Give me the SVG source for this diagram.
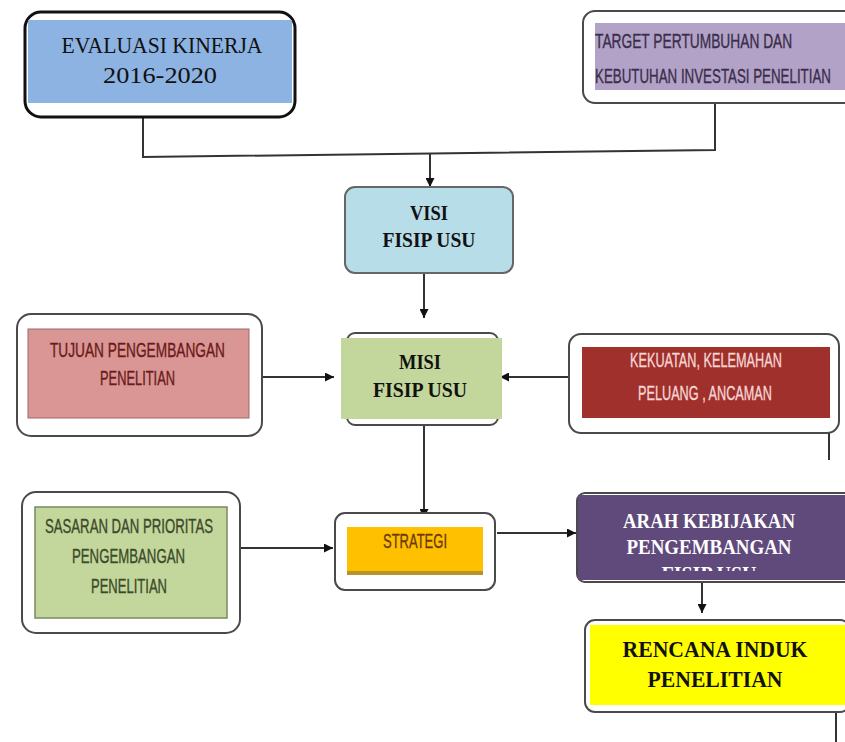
<svg xmlns="http://www.w3.org/2000/svg" width="845" height="742" viewBox="0 0 845 742">
<style>
.frame{fill:#fff;stroke:#4a4a4a;stroke-width:2}
.serif{font-family:"Liberation Serif","DejaVu Serif",serif;text-anchor:middle}
.sb{font-family:"Liberation Serif","DejaVu Serif",serif;font-weight:bold;text-anchor:middle}
.sans{font-family:"Liberation Sans","DejaVu Sans",sans-serif;font-size:20px;stroke-width:0.35px}
.conn{fill:none;stroke:#333;stroke-width:2}
</style>
<defs>
<marker id="arr" markerUnits="userSpaceOnUse" markerWidth="9" markerHeight="9" viewBox="0 0 10 10" refX="10" refY="5" orient="auto">
<path d="M0,0 L10,5 L0,10 z" fill="#111"/>
</marker>
<clipPath id="arahClip"><rect x="578" y="495" width="267" height="76"/></clipPath>
</defs>
<rect width="845" height="742" fill="#fff"/>

<g id="connectors">
<polyline class="conn" points="143,103 143,157 715,150 715,90"/>
<line class="conn" x1="430" y1="154" x2="430" y2="187" marker-end="url(#arr)"/>
<line class="conn" x1="424" y1="273" x2="424" y2="318" marker-end="url(#arr)"/>
<line class="conn" x1="262" y1="377" x2="334" y2="377" marker-end="url(#arr)"/>
<line class="conn" x1="570" y1="377" x2="500" y2="377" marker-end="url(#arr)"/>
<line class="conn" x1="424" y1="425" x2="424" y2="518" marker-end="url(#arr)"/>
<line class="conn" x1="240" y1="548" x2="333" y2="548" marker-end="url(#arr)"/>
<line class="conn" x1="497" y1="533" x2="576" y2="533" marker-end="url(#arr)"/>
<line class="conn" x1="702" y1="582" x2="702" y2="613" marker-end="url(#arr)"/>
<line class="conn" x1="829" y1="433" x2="829" y2="460" stroke-width="1.5"/>
<line class="conn" x1="836" y1="705" x2="836" y2="742" stroke-width="1.5"/>
</g>

<g id="evaluasi">
<rect x="25" y="12" width="270" height="105" rx="16" fill="#fff" stroke="#111" stroke-width="3"/>
<rect x="28" y="20" width="264" height="83" fill="#8db3e2"/>
<text class="serif" x="162" y="53" font-size="24" textLength="201" lengthAdjust="spacingAndGlyphs" fill="#111">EVALUASI KINERJA</text>
<text class="serif" x="160" y="83" font-size="24" textLength="114" lengthAdjust="spacingAndGlyphs" fill="#111">2016-2020</text>
</g>

<g id="target">
<rect class="frame" x="583" y="11" width="275" height="92" rx="12"/>
<rect x="595" y="23" width="250" height="67" fill="#b2a2c7"/>
<text class="sans" transform="translate(595,48) scale(0.68,1)" x="0" y="0" fill="#3a2d4a" stroke="#3a2d4a" textLength="290" lengthAdjust="spacingAndGlyphs">TARGET PERTUMBUHAN DAN</text>
<text class="sans" transform="translate(595,83) scale(0.68,1)" x="0" y="0" fill="#3a2d4a" stroke="#3a2d4a" textLength="347" lengthAdjust="spacingAndGlyphs">KEBUTUHAN INVESTASI PENELITIAN</text>
</g>

<g id="visi">
<rect x="345" y="187" width="168" height="86" rx="10" fill="#b7dde8" stroke="#666" stroke-width="2"/>
<text class="sb" x="429" y="220" font-size="21" textLength="38" lengthAdjust="spacingAndGlyphs" fill="#111">VISI</text>
<text class="sb" x="429" y="247" font-size="21" textLength="93" lengthAdjust="spacingAndGlyphs" fill="#111">FISIP USU</text>
</g>

<g id="misi">
<rect class="frame" x="347" y="333" width="151" height="92" rx="8"/>
<rect x="341" y="338" width="161" height="81" fill="#c3d69b"/>
<text class="sb" x="420" y="369" font-size="21" textLength="42" lengthAdjust="spacingAndGlyphs" fill="#111">MISI</text>
<text class="sb" x="420" y="397" font-size="21" textLength="94" lengthAdjust="spacingAndGlyphs" fill="#111">FISIP USU</text>
</g>

<g id="tujuan">
<rect class="frame" x="17" y="314" width="245" height="122" rx="14"/>
<rect x="28" y="329" width="221" height="89" fill="#d99694" stroke="#9a6a6a" stroke-width="1"/>
<text class="sans" x="50" y="357" fill="#6b1a1a" stroke="#6b1a1a" textLength="175" lengthAdjust="spacingAndGlyphs">TUJUAN PENGEMBANGAN</text>
<text class="sans" x="100" y="385" fill="#6b1a1a" stroke="#6b1a1a" textLength="75" lengthAdjust="spacingAndGlyphs">PENELITIAN</text>
</g>

<g id="kekuatan">
<rect class="frame" x="569" y="334" width="270" height="99" rx="12"/>
<rect x="582" y="347" width="248" height="71" fill="#a0302c"/>
<text class="sans" transform="translate(630,367) scale(0.66,1)" x="0" y="0" fill="#f6d6d4" stroke="#f6d6d4" textLength="230" lengthAdjust="spacingAndGlyphs">KEKUATAN, KELEMAHAN</text>
<text class="sans" transform="translate(638,400) scale(0.66,1)" x="0" y="0" fill="#f6d6d4" stroke="#f6d6d4" textLength="203" lengthAdjust="spacingAndGlyphs">PELUANG , ANCAMAN</text>
</g>

<g id="sasaran">
<rect class="frame" x="22" y="492" width="218" height="141" rx="14"/>
<rect x="35" y="507" width="192" height="111" fill="#c3d69b" stroke="#7a8a60" stroke-width="1.5"/>
<text class="sans" x="45" y="533" font-size="19" fill="#3b4a2a" stroke="#3b4a2a" textLength="168" lengthAdjust="spacingAndGlyphs">SASARAN DAN PRIORITAS</text>
<text class="sans" x="72" y="563" font-size="19" fill="#3b4a2a" stroke="#3b4a2a" textLength="113" lengthAdjust="spacingAndGlyphs">PENGEMBANGAN</text>
<text class="sans" x="91" y="593" font-size="19" fill="#3b4a2a" stroke="#3b4a2a" textLength="76" lengthAdjust="spacingAndGlyphs">PENELITIAN</text>
</g>

<g id="strategi">
<rect class="frame" x="335" y="513" width="160" height="77" rx="10"/>
<rect x="347" y="527" width="136" height="48" fill="#ffc000"/>
<rect x="347" y="571" width="136" height="4" fill="#b8922a"/>
<text class="sans" x="383" y="548" font-size="18" fill="#6b3a10" stroke="#6b3a10" textLength="64" lengthAdjust="spacingAndGlyphs">STRATEGI</text>
</g>

<g id="arah">
<rect class="frame" x="577" y="493" width="275" height="89" rx="8"/>
<rect x="578" y="495" width="267" height="85" fill="#604a7b"/>
<g clip-path="url(#arahClip)">
<text class="sb" x="709" y="528" font-size="20" textLength="172" lengthAdjust="spacingAndGlyphs" fill="#fff">ARAH KEBIJAKAN</text>
<text class="sb" x="709" y="554" font-size="20" textLength="165" lengthAdjust="spacingAndGlyphs" fill="#fff">PENGEMBANGAN</text>
<text class="sb" x="709" y="581" font-size="20" textLength="95" lengthAdjust="spacingAndGlyphs" fill="#fff">FISIP USU</text>
</g>
</g>

<g id="rencana">
<rect class="frame" x="585" y="620" width="265" height="92" rx="10" stroke="#777"/>
<rect x="590" y="625" width="260" height="80" fill="#ffff00"/>
<text class="sb" x="715" y="657" font-size="23" textLength="185" lengthAdjust="spacingAndGlyphs" fill="#111">RENCANA INDUK</text>
<text class="sb" x="715" y="687" font-size="23" textLength="135" lengthAdjust="spacingAndGlyphs" fill="#111">PENELITIAN</text>
</g>
</svg>
